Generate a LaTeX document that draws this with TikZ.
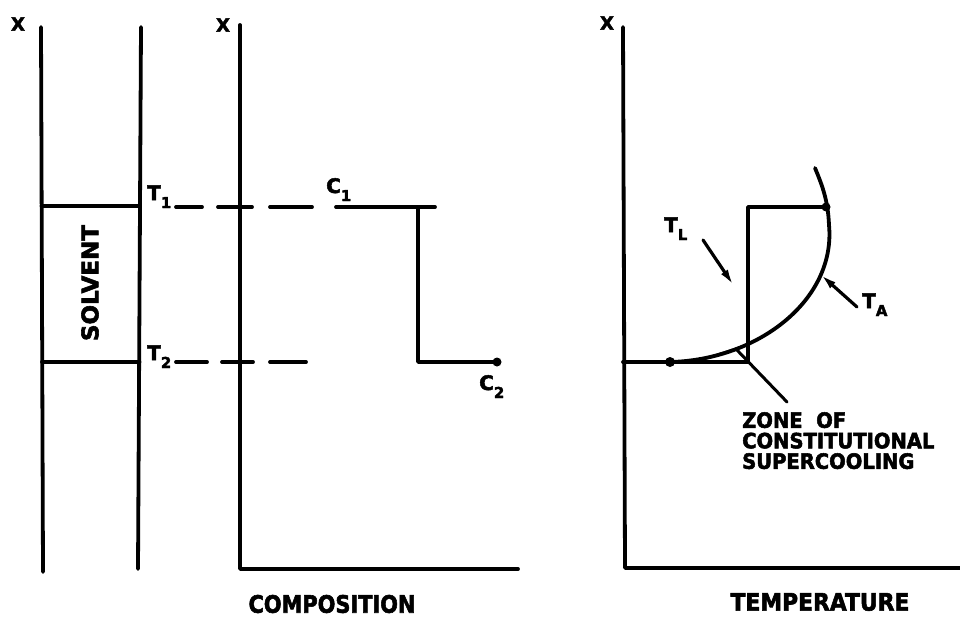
\documentclass[tikz,border=0pt]{standalone}
\usepackage{fontspec}
\setmainfont{DejaVu Sans}[BoldFeatures={FakeBold=2.5}]
\usetikzlibrary{arrows.meta}
\newcommand{\lowsub}[1]{\raisebox{-8pt}{\fontsize{15}{15}\selectfont #1}}
\begin{document}
\begin{tikzpicture}[x=1pt,y=-1pt,
  ln/.style={line width=3.8pt,line cap=round,line join=round},
  dsh/.style={line width=3.8pt,line cap=round},
  thinln/.style={line width=3pt,line cap=round},
  ptr/.style={line width=3.2pt,line cap=round,-{Latex[length=17pt,width=8pt]}},
  lbl/.style={font=\bfseries\fontsize{20}{22}\selectfont,inner sep=0pt},
  xlbl/.style={font=\bfseries\fontsize{18}{18}\selectfont,inner sep=0pt},
  axlbl/.style={font=\bfseries\fontsize{24}{26}\selectfont,inner sep=0pt},
  blob/.style={circle,fill=black,inner sep=0pt,minimum size=10pt}]
\useasboundingbox (0,0) rectangle (960,618);
% ---------- left panel: solvent zone ----------
\coordinate (w1t) at (41,27);  \coordinate (w1b) at (43,572);
\coordinate (w2t) at (141,27); \coordinate (w2b) at (138,569);
\draw[ln] (w1t) -- (w1b);
\draw[ln] (w2t) -- (w2b);
\coordinate (s1l) at (41.5,206); \coordinate (s1r) at (140,206);
\coordinate (s2l) at (42,362);   \coordinate (s2r) at (139.5,362);
\draw[ln] (s1l) -- (s1r);
\draw[ln] (s2l) -- (s2r);
\node[lbl,font=\bfseries\fontsize{23}{23}\selectfont,rotate=90] (solvent) at (90,283) {SOLVENT};
\node[xlbl] (x1) at (18,24) {X};
\node[lbl,anchor=base west] (t1) at (147,200) {T\lowsub{1}};
\node[lbl,anchor=base west] (t2) at (147,360) {T\lowsub{2}};
% ---------- composition axes ----------
\coordinate (a2t) at (240,25); \coordinate (a2o) at (240,569); \coordinate (a2r) at (518,569);
\draw[ln] (a2t) -- (a2o) -- (a2r);
\node[xlbl] (x2) at (223,25) {X};
\node[axlbl] (comp) at (332,604) {\scalebox{0.87}[1]{COMPOSITION}};
% dashed projections
\coordinate (d1a) at (176,207); \coordinate (d1b) at (202,207);
\coordinate (d1c) at (218,207); \coordinate (d1d) at (252,207);
\coordinate (d1e) at (270,207); \coordinate (d1f) at (312,207);
\draw[dsh] (d1a) -- (d1b); \draw[dsh] (d1c) -- (d1d); \draw[dsh] (d1e) -- (d1f);
\coordinate (d2a) at (176,362); \coordinate (d2b) at (207,362);
\coordinate (d2c) at (222,362); \coordinate (d2d) at (253,362);
\coordinate (d2e) at (270,362); \coordinate (d2f) at (306,362);
\draw[dsh] (d2a) -- (d2b); \draw[dsh] (d2c) -- (d2d); \draw[dsh] (d2e) -- (d2f);
% composition step
\coordinate (c1a) at (336,207); \coordinate (c1b) at (435,207);
\coordinate (c1v) at (418,207); \coordinate (c2v) at (418,362);
\node[blob,minimum size=9pt] (c2dot) at (497,362) {};
\draw[ln] (c1a) -- (c1b);
\draw[ln] (c1v) -- (c2v) -- (c2dot.center);
\node[lbl,anchor=base west] (c1) at (326,193) {C\lowsub{1}};
\node[lbl,anchor=base west] (c2) at (479,390) {C\lowsub{2}};
% ---------- temperature panel ----------
\coordinate (a3t) at (623,27); \coordinate (a3o) at (625,568); \coordinate (a3r) at (960,568);
\draw[ln] (a3t) -- (a3o) -- (a3r);
\node[xlbl] (x3) at (607,23) {X};
\node[axlbl] (temp) at (820,602) {\scalebox{0.91}[1]{TEMPERATURE}};
% liquidus step T_L
\node[blob] (ta0) at (670,362) {};
\node[blob,minimum size=9pt] (ta1) at (826,207) {};
\coordinate (h0) at (623,362); \coordinate (hv) at (748,362); \coordinate (vt) at (748,207);
\draw[ln] (h0) -- (hv) -- (vt) -- (ta1.center);
% actual temperature T_A
\draw[ln] (ta0.center) .. controls (758,360) and (836,300) .. (829,225)
                      .. controls (828,200) and (822,185) .. (815,168);
% zone of constitutional supercooling
\coordinate (z1) at (704,359); \coordinate (z2) at (741,347);
\draw[line width=2.4pt,line cap=round] (z1) -- (z2);
\coordinate (zp1) at (736,349); \coordinate (zp2) at (787,402);
\draw[thinln] (zp1) -- (zp2);
\node[font=\bfseries\fontsize{21}{21}\selectfont,inner sep=0pt,anchor=north west,align=left] (zone) at (742,412)
  {\scalebox{0.93}[1]{ZONE\ \ OF}\\[-0.5pt]\scalebox{0.93}[1]{CONSTITUTIONAL}\\[-0.5pt]\scalebox{0.93}[1]{SUPERCOOLING}};
% labels with pointers
\node[lbl,anchor=base west] (tl) at (664,232) {T\lowsub{L}};
\node[lbl,anchor=base west] (tA) at (862,308) {T\lowsub{A}};
\coordinate (tlp0) at (703,240); \coordinate (tlp1) at (734,286);
\draw[ptr] (tlp0) -- (tlp1);
\coordinate (tap0) at (857,307); \coordinate (tap1) at (820,274);
\draw[ptr] (tap0) -- (tap1);
\end{tikzpicture}
\end{document}
